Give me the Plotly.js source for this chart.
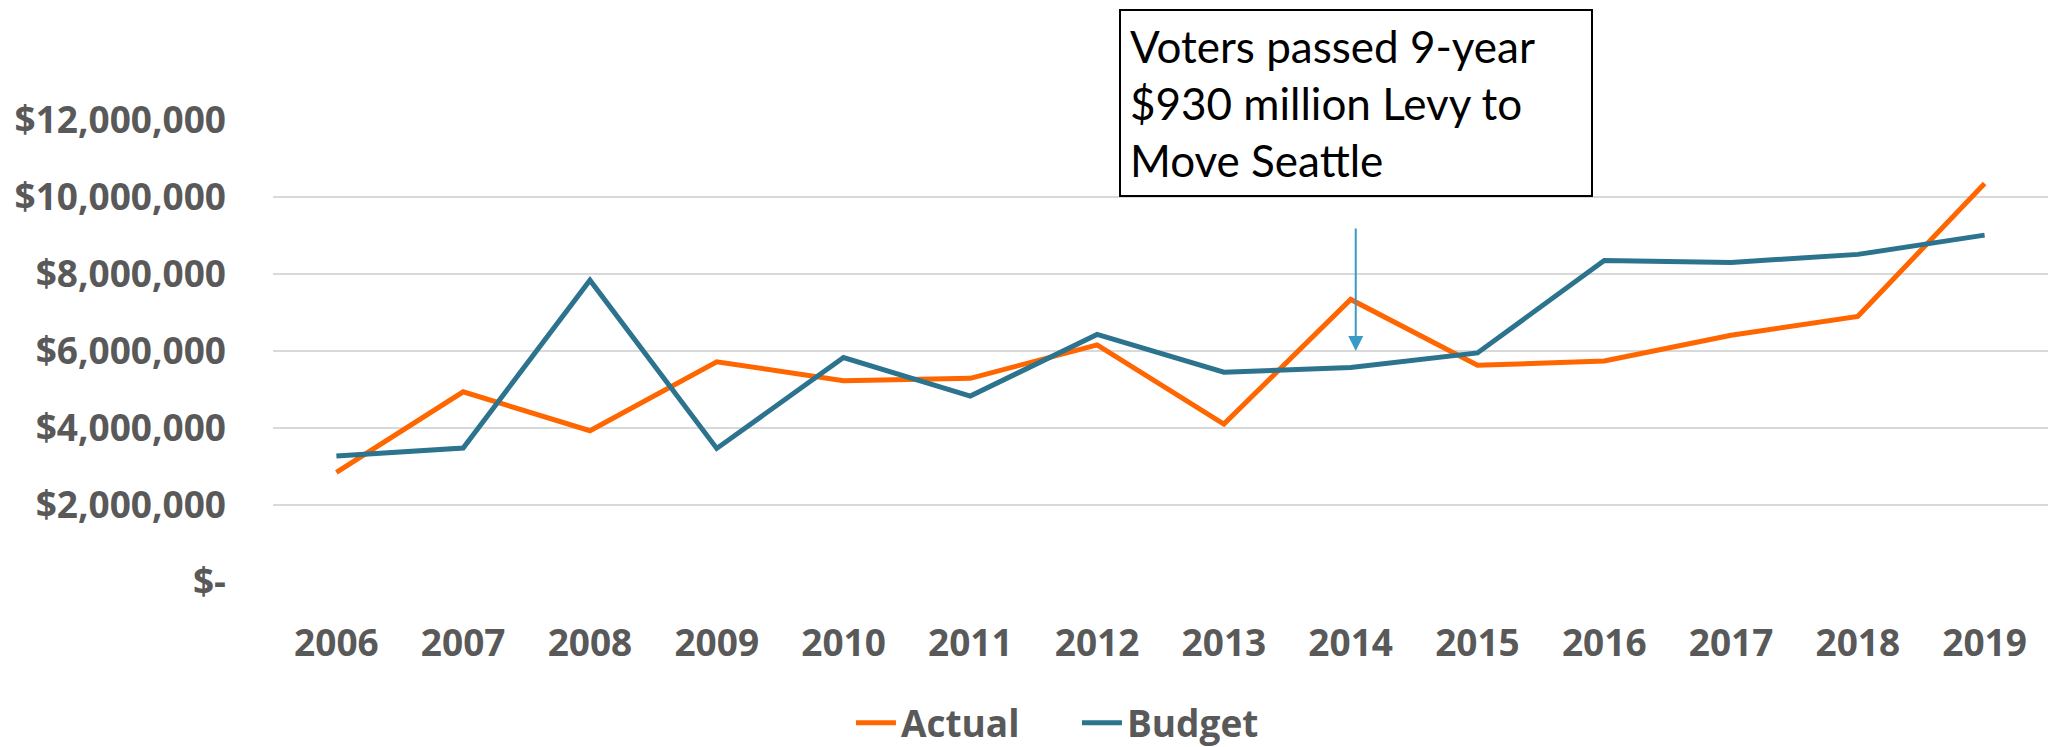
<!DOCTYPE html>
<html>
<head>
<meta charset="utf-8">
<script src="https://cdn.plot.ly/plotly-3.0.1.min.js"></script>
<style>html,body{margin:0;padding:0;background:#fff;}#chart{width:2048px;height:747px;}</style>
</head>
<body>
<div id="chart"></div>
<script>
const years = ['2006','2007','2008','2009','2010','2011','2012','2013','2014','2015','2016','2017','2018','2019'];
const actual = [2850000, 4940000, 3930000, 5720000, 5230000, 5290000, 6160000, 4100000, 7340000, 5630000, 5740000, 6410000, 6900000, 10350000];
const budget = [3270000, 3480000, 7840000, 3470000, 5830000, 4830000, 6430000, 5450000, 5570000, 5950000, 8350000, 8300000, 8510000, 9010000];
const yTickVals = [0, 2000000, 4000000, 6000000, 8000000, 10000000, 12000000];
const yTickText = ['$-', '$2,000,000', '$4,000,000', '$6,000,000', '$8,000,000', '$10,000,000', '$12,000,000'];
const noteText = 'Voters passed 9-year<br>$930 million Levy to<br>Move Seattle';
const noteYear = '2014';
const noteValue = 6000000;

const labelFont = {family: '"Open Sans", "Noto Sans", sans-serif', size: 37, color: '#595959', weight: 'bold'};

const traces = [
  {x: years, y: actual, name: 'Actual', type: 'scatter', mode: 'lines',
   line: {color: '#FF6600', width: 5}},
  {x: years, y: budget, name: 'Budget', type: 'scatter', mode: 'lines',
   line: {color: '#2C738E', width: 5}}
];

const layout = {
  width: 2048, height: 747,
  margin: {l: 273, r: 0, t: 120, b: 165},
  paper_bgcolor: '#ffffff', plot_bgcolor: '#ffffff',
  showlegend: true,
  hovermode: false,
  xaxis: {
    type: 'category', range: [-0.5, 13.5],
    showgrid: false, zeroline: false, showline: false,
    ticks: '', tickfont: labelFont, ticklabelstandoff: 36
  },
  yaxis: {
    range: [0, 12000000], tickmode: 'array', tickvals: yTickVals, ticktext: yTickText,
    showgrid: true, gridcolor: '#D9D9D9', gridwidth: 2,
    zeroline: false, showline: false, ticks: '',
    tickfont: labelFont, ticklabelstandoff: 46
  },
  legend: {
    orientation: 'h', xref: 'container', yref: 'container',
    x: 0.4155, xanchor: 'left', y: 0.032, yanchor: 'middle',
    font: labelFont, itemwidth: 40, traceorder: 'normal',
    entrywidth: 171, entrywidthmode: 'pixels'
  },
  annotations: [
    {
      x: years.indexOf(noteYear) + 0.04, y: noteValue, xref: 'x', yref: 'y',
      axref: 'pixel', ayref: 'pixel',
      showarrow: true, arrowhead: 2, arrowsize: 1.5, arrowwidth: 2, arrowcolor: '#3A9AC6',
      ax: 0, ay: -131, text: 'x', font: {size: 10, color: 'rgba(255,255,255,0)'},
      standoff: 0
    },
    {
      xref: 'paper', yref: 'paper', x: 0.4766, y: 1.2403,
      xanchor: 'left', yanchor: 'top', showarrow: false,
      text: noteText, align: 'left', width: 452,
      font: {family: 'Lato, "Open Sans", sans-serif', size: 44, color: '#000000'},
      bordercolor: '#000000', borderwidth: 2, borderpad: 9, bgcolor: '#ffffff'
    }
  ]
};

Plotly.newPlot('chart', traces, layout, {displayModeBar: false, staticPlot: true});
</script>
</body>
</html>
